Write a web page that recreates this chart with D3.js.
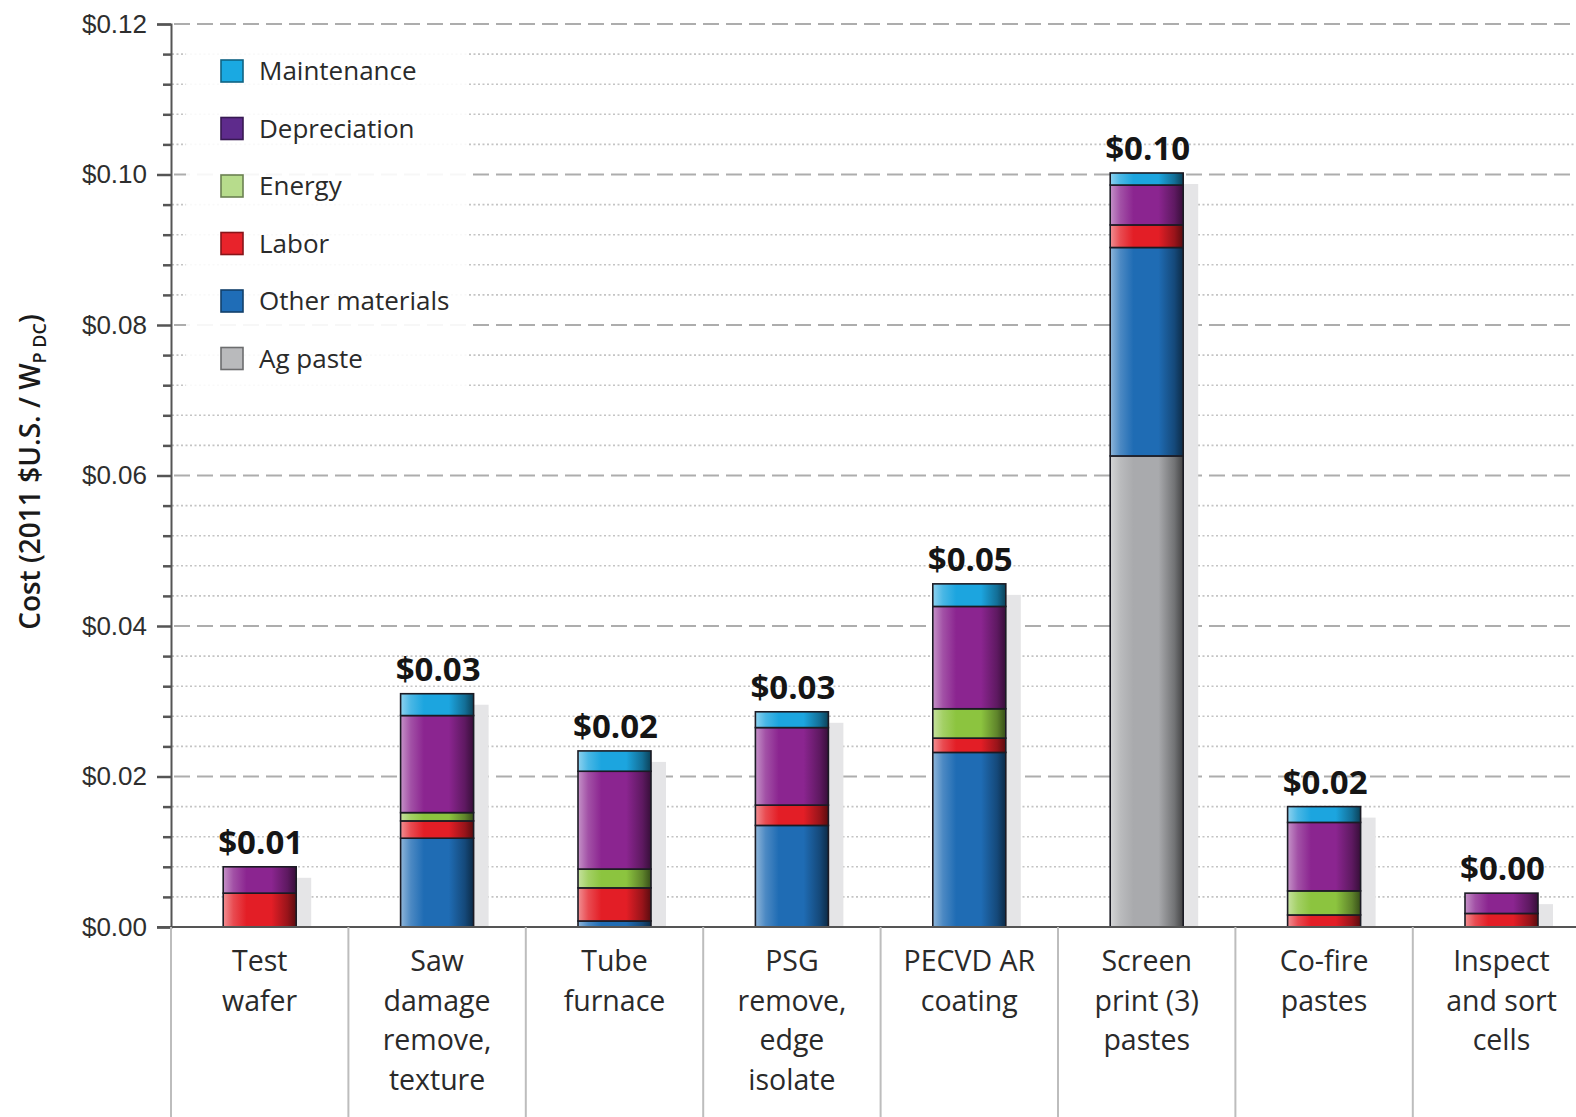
<!DOCTYPE html>
<html>
<head>
<meta charset="utf-8">
<script src="https://cdn.jsdelivr.net/npm/d3@7"></script>
<style>
  body { margin: 0; background: #fff; }
  svg { display: block; font-family: "Open Sans", "Noto Sans", sans-serif; }
  .tick-lbl { font-size: 26px; fill: #2e2e2e; }
  .xlbl { font-size: 28.5px; fill: #2a2a2a; }
  .total { font-size: 33px; font-weight: 700; fill: #151515; }
  .leg { font-size: 26px; fill: #2a2a2a; }
</style>
</head>
<body>
<div id="chart"></div>
<script>
var width = 1576,
    height = 1117;

// categories (x labels, one entry per line)
var categories = ["Test wafer", "Saw damage", "Tube furnace", "PSG", "PECVD AR", "Screen print", "Co-fire", "Inspect"];
var labelLines = [
  ["Test", "wafer"],
  ["Saw", "damage", "remove,", "texture"],
  ["Tube", "furnace"],
  ["PSG", "remove,", "edge", "isolate"],
  ["PECVD AR", "coating"],
  ["Screen", "print (3)", "pastes"],
  ["Co-fire", "pastes"],
  ["Inspect", "and sort", "cells"]
];

// series, bottom of stack first
var seriesNames = ["Ag paste", "Other materials", "Labor", "Energy", "Depreciation", "Maintenance"];
var agPaste        = [0,      0,      0,      0,      0,      0.0626, 0,      0];
var otherMaterials = [0,      0.0118, 0.0008, 0.0135, 0.0232, 0.0277, 0,      0];
var labor          = [0.0045, 0.0023, 0.0044, 0.0027, 0.0019, 0.0030, 0.0016, 0.0018];
var energy         = [0,      0.0011, 0.0025, 0,      0.0039, 0,      0.0032, 0];
var depreciation   = [0.0035, 0.0129, 0.0130, 0.0103, 0.0136, 0.0053, 0.0091, 0.0027];
var maintenance    = [0,      0.0029, 0.0027, 0.0021, 0.0030, 0.0016, 0.0021, 0];

var majorTicks = [0, 0.02, 0.04, 0.06, 0.08, 0.10, 0.12];
var minorTicks = d3.range(0, 0.1201, 0.004).filter(function(v) { return Math.round(v * 1000) % 20 !== 0; });

var barColors = {
  "Ag paste": "#a9aaad",
  "Other materials": "#1f6cb4",
  "Labor": "#e31e26",
  "Energy": "#8cc43f",
  "Depreciation": "#8b2590",
  "Maintenance": "#1ca5df"
};
var legendColors = {
  "Maintenance": "#1aa9e2",
  "Depreciation": "#5e2b8c",
  "Energy": "#b7dc8c",
  "Labor": "#e8232b",
  "Other materials": "#1f6db7",
  "Ag paste": "#b9babc"
};

var rows = categories.map(function(c, i) {
  return {
    cat: c,
    "Ag paste": agPaste[i],
    "Other materials": otherMaterials[i],
    "Labor": labor[i],
    "Energy": energy[i],
    "Depreciation": depreciation[i],
    "Maintenance": maintenance[i]
  };
});

var stacked = d3.stack().keys(seriesNames)(rows);

var x = d3.scaleBand()
  .domain(categories)
  .range([171, 171 + 177.4 * categories.length]);

var y = d3.scaleLinear()
  .domain([0, 0.12])
  .range([927, 24]);

var barW = 73;

var svg = d3.select('#chart').append('svg')
  .attr('width', width)
  .attr('height', height);

// gradients
var defs = svg.append('defs');
seriesNames.forEach(function(s, i) {
  var base = barColors[s];
  var g = defs.append('linearGradient')
    .attr('id', 'grad' + i)
    .attr('x1', 0).attr('x2', 1).attr('y1', 0).attr('y2', 0);
  g.append('stop').attr('offset', '0%').attr('stop-color', d3.interpolateRgb(base, '#fff')(0.5));
  g.append('stop').attr('offset', '14%').attr('stop-color', d3.interpolateRgb(base, '#fff')(0.2));
  g.append('stop').attr('offset', '32%').attr('stop-color', base);
  g.append('stop').attr('offset', '66%').attr('stop-color', base);
  g.append('stop').attr('offset', '88%').attr('stop-color', d3.color(base).darker(1.1));
  g.append('stop').attr('offset', '100%').attr('stop-color', d3.color(base).darker(2.6));
});

// minor gridlines (dotted)
svg.append('g').selectAll('line')
  .data(minorTicks).enter().append('line')
  .attr('x1', 172).attr('x2', width)
  .attr('y1', function(d) { return y(d); })
  .attr('y2', function(d) { return y(d); })
  .attr('stroke', '#c4c4c4')
  .attr('stroke-width', 1.6)
  .attr('stroke-dasharray', '2,2.5');

// major gridlines (dashed)
svg.append('g').selectAll('line')
  .data(majorTicks.slice(1)).enter().append('line')
  .attr('x1', 174).attr('x2', width)
  .attr('y1', function(d) { return y(d); })
  .attr('y2', function(d) { return y(d); })
  .attr('stroke', '#adadad')
  .attr('stroke-width', 2)
  .attr('stroke-dasharray', '16,7');

// legend backdrop
svg.append('rect')
  .attr('x', 186).attr('y', 36)
  .attr('width', 282).attr('height', 358)
  .attr('fill', '#fff')
  .attr('opacity', 0.9);

// shadows
var totals = rows.map(function(r) {
  return d3.sum(seriesNames, function(s) { return r[s]; });
});
svg.append('g').selectAll('rect')
  .data(categories).enter().append('rect')
  .attr('x', function(d) { return x(d) + (x.bandwidth() - barW) / 2 + 15; })
  .attr('y', function(d, i) { return y(totals[i]) + 11; })
  .attr('width', barW)
  .attr('height', function(d, i) { return y(0) - y(totals[i]) - 11; })
  .attr('fill', '#e5e5e7');

// stacked bars
var layers = svg.append('g').selectAll('g')
  .data(stacked).enter().append('g')
  .attr('fill', function(d, i) { return 'url(#grad' + i + ')'; });

layers.selectAll('rect')
  .data(function(d) { return d.filter(function(p) { return p[1] - p[0] > 0; }); })
  .enter().append('rect')
  .attr('x', function(d) { return x(d.data.cat) + (x.bandwidth() - barW) / 2; })
  .attr('y', function(d) { return y(d[1]); })
  .attr('width', barW)
  .attr('height', function(d) { return y(d[0]) - y(d[1]); })
  .attr('stroke', '#1b1b24')
  .attr('stroke-width', 1.6);

// totals
svg.append('g').selectAll('text')
  .data(categories).enter().append('text')
  .attr('class', 'total')
  .attr('x', function(d) { return x(d) + x.bandwidth() / 2 + 1; })
  .attr('y', function(d, i) { return y(totals[i]) - 13; })
  .attr('text-anchor', 'middle')
  .text(function(d, i) { return d3.format('$.2f')(totals[i]); });

// y axis
var yAxis = svg.append('g')
  .attr('transform', 'translate(171,0)')
  .call(d3.axisLeft(y).tickValues(majorTicks).tickSize(14).tickPadding(10).tickFormat(d3.format('$.2f')));
yAxis.select('.domain').attr('stroke', '#555').attr('stroke-width', 2);
yAxis.selectAll('.tick line').attr('stroke', '#555').attr('stroke-width', 2.5);
yAxis.selectAll('.tick text').attr('class', 'tick-lbl').attr('font-family', null).attr('font-size', null).attr('fill', null);

var yMinor = svg.append('g')
  .attr('transform', 'translate(171,0)')
  .call(d3.axisLeft(y).tickValues(minorTicks).tickSize(8).tickFormat(''));
yMinor.select('.domain').remove();
yMinor.selectAll('.tick line').attr('stroke', '#555').attr('stroke-width', 2.5);

// x axis line and separators
svg.append('line')
  .attr('x1', 157).attr('x2', width)
  .attr('y1', y(0)).attr('y2', y(0))
  .attr('stroke', '#555').attr('stroke-width', 2);

svg.append('g').selectAll('line')
  .data(categories).enter().append('line')
  .attr('x1', function(d) { return x(d); })
  .attr('x2', function(d) { return x(d); })
  .attr('y1', y(0)).attr('y2', height)
  .attr('stroke', '#bdbdbd').attr('stroke-width', 2);

// x labels
var xl = svg.append('g').selectAll('text')
  .data(categories).enter().append('text')
  .attr('class', 'xlbl')
  .attr('text-anchor', 'middle')
  .attr('x', function(d) { return x(d) + x.bandwidth() / 2; })
  .attr('y', 971);
xl.selectAll('tspan')
  .data(function(d, i) { return labelLines[i]; })
  .enter().append('tspan')
  .attr('x', function() { return d3.select(this.parentNode).attr('x'); })
  .attr('dy', function(d, i) { return i === 0 ? 0 : 39.5; })
  .text(function(d) { return d; });

// y title
var yt = svg.append('text')
  .attr('transform', 'translate(40,472) rotate(-90)')
  .attr('text-anchor', 'middle')
  .attr('font-size', 28)
  .attr('font-weight', 600)
  .attr('fill', '#1a1a1a');
yt.append('tspan').text('Cost (2011 $U.S. / W');
yt.append('tspan').attr('font-size', 18).attr('dy', 6).text('P DC');
yt.append('tspan').attr('dy', -6).text(')');

// legend
var legendOrder = seriesNames.slice().reverse();
var leg = svg.append('g').selectAll('g')
  .data(legendOrder).enter().append('g')
  .attr('transform', function(d, i) { return 'translate(221,' + (71 + i * 57.5) + ')'; });
leg.append('rect')
  .attr('x', 0).attr('y', -11)
  .attr('width', 22).attr('height', 22)
  .attr('fill', function(d) { return legendColors[d]; })
  .attr('stroke', function(d) { return d3.color(legendColors[d]).darker(1.5); })
  .attr('stroke-width', 1.6);
leg.append('text')
  .attr('class', 'leg')
  .attr('x', 38).attr('y', 9)
  .text(function(d) { return d; });
</script>
</body>
</html>
